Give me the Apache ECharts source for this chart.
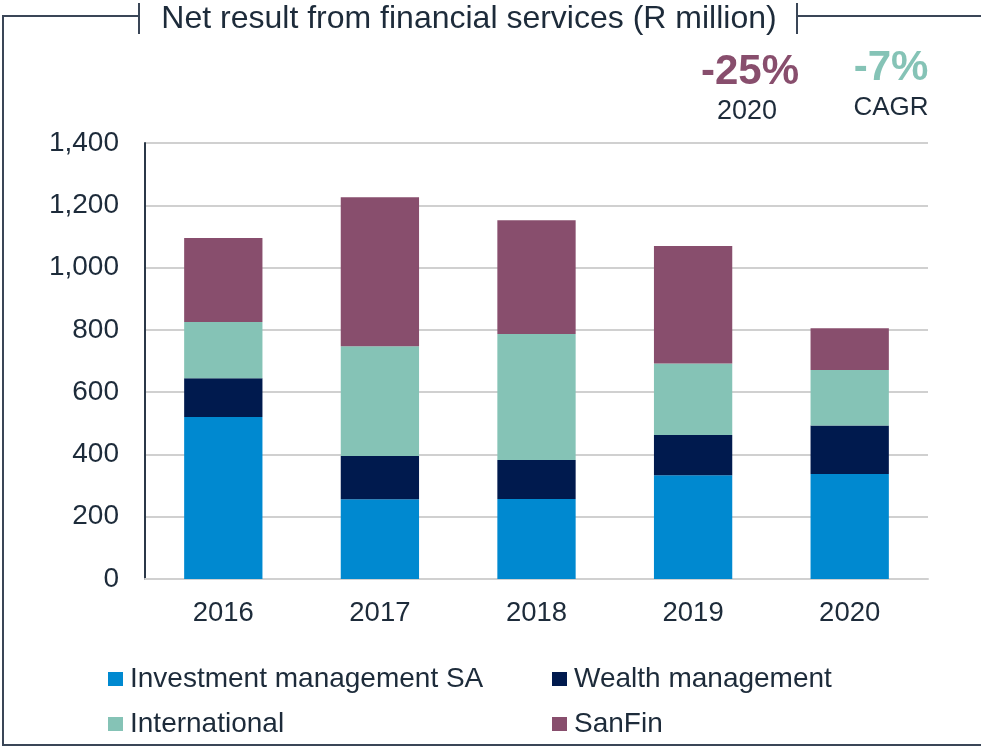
<!DOCTYPE html>
<html>
<head>
<meta charset="utf-8">
<script src="https://cdn.jsdelivr.net/npm/echarts@6/dist/echarts.min.js"></script>
<style>
  html, body { margin: 0; padding: 0; background: #ffffff; }
  #chart { width: 981px; height: 748px; }
</style>
</head>
<body>
<div id="chart"></div>
<script>
// Net result from financial services, R million
const years = ['2016', '2017', '2018', '2019', '2020'];
const investmentSA = [520, 256, 257, 333, 337];
const wealth = [125, 139, 125, 129, 156];
const international = [180, 352, 405, 230, 178];
const sanFin = [270, 479, 365, 377, 134];
const yTicks = [0, 200, 400, 600, 800, 1000, 1200, 1400];

const FONT = '"Liberation Sans", Arial, sans-serif';
const TEXT = '#1d2b3a';
const FRAME = '#3a4657';

const chart = echarts.init(document.getElementById('chart'), null, { renderer: 'canvas' });

const seriesDefs = [
  { name: 'Investment management SA', data: investmentSA, color: '#0089d0' },
  { name: 'Wealth management', data: wealth, color: '#001a4e' },
  { name: 'International', data: international, color: '#85c3b6' },
  { name: 'SanFin', data: sanFin, color: '#884e6d' }
];

const legendText = { fontFamily: FONT, fontSize: 28, color: TEXT, lineHeight: 28, padding: [0, 0, 0, 2] };

chart.setOption({
  animation: false,
  backgroundColor: '#ffffff',
  grid: { left: 145, right: 53, top: 143, bottom: 169 },
  legend: [
    {
      data: ['Investment management SA', 'International'],
      orient: 'vertical', left: 108, top: 665, itemWidth: 15, itemHeight: 14,
      itemGap: 17, icon: 'rect', textStyle: legendText, selectedMode: false, padding: 0
    },
    {
      data: ['Wealth management', 'SanFin'],
      orient: 'vertical', left: 552, top: 665, itemWidth: 15, itemHeight: 14,
      itemGap: 17, icon: 'rect', textStyle: legendText, selectedMode: false, padding: 0
    }
  ],
  xAxis: {
    type: 'category',
    data: years,
    axisLine: { show: true, lineStyle: { color: '#d0d0d0', width: 2 } },
    axisTick: { show: false },
    axisLabel: { fontFamily: FONT, fontSize: 27.5, color: TEXT, margin: 20 }
  },
  yAxis: {
    type: 'value',
    min: yTicks[0],
    max: yTicks[yTicks.length - 1],
    interval: yTicks[1] - yTicks[0],
    axisLine: { show: true, lineStyle: { color: '#2b3848', width: 2 } },
    axisTick: { show: false },
    splitLine: { lineStyle: { color: '#d0d0d0', width: 2 } },
    axisLabel: {
      fontFamily: FONT, fontSize: 28, color: TEXT, margin: 26,
      formatter: v => v.toLocaleString('en-US')
    }
  },
  series: seriesDefs.map(s => ({
    name: s.name,
    type: 'bar',
    stack: 'total',
    barWidth: '50%',
    data: s.data,
    itemStyle: { color: s.color },
    emphasis: { disabled: true }
  })),
  graphic: [
    // frame around the panel
    { type: 'polyline', shape: { points: [[139, 16], [3, 16], [3, 745], [981, 745]] },
      style: { stroke: FRAME, lineWidth: 2, fill: null } },
    { type: 'line', shape: { x1: 797, y1: 16, x2: 981, y2: 16 },
      style: { stroke: FRAME, lineWidth: 2 } },
    { type: 'line', shape: { x1: 139, y1: 3, x2: 139, y2: 34 },
      style: { stroke: FRAME, lineWidth: 2 } },
    { type: 'line', shape: { x1: 797, y1: 3, x2: 797, y2: 34 },
      style: { stroke: FRAME, lineWidth: 2 } },
    { type: 'text', x: 469, y: 19,
      style: { text: 'Net result from financial services (R million)', fontFamily: FONT,
        fontSize: 32, fill: TEXT, align: 'center', verticalAlign: 'middle' } },
    // change indicators
    { type: 'text', x: 750, y: 72,
      style: { text: '-25%', fontFamily: FONT, fontSize: 42, fontWeight: 'bold',
        fill: '#884e6d', align: 'center', verticalAlign: 'middle' } },
    { type: 'text', x: 747, y: 112,
      style: { text: '2020', fontFamily: FONT, fontSize: 27, fill: TEXT,
        align: 'center', verticalAlign: 'middle' } },
    { type: 'text', x: 891, y: 68,
      style: { text: '-7%', fontFamily: FONT, fontSize: 42, fontWeight: 'bold',
        fill: '#85c3b6', align: 'center', verticalAlign: 'middle' } },
    { type: 'text', x: 891, y: 108,
      style: { text: 'CAGR', fontFamily: FONT, fontSize: 26, fill: TEXT,
        align: 'center', verticalAlign: 'middle' } }
  ]
});
</script>
</body>
</html>
